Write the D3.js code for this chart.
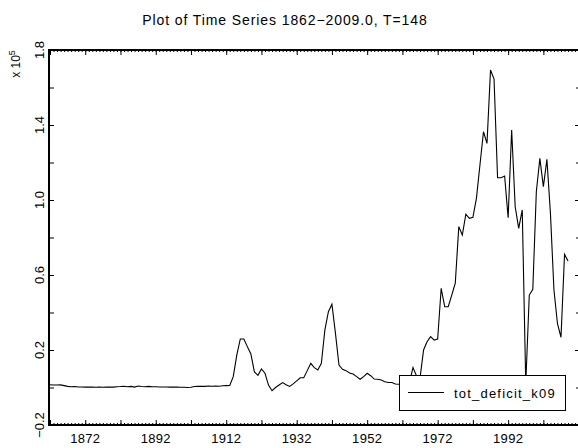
<!DOCTYPE html>
<html>
<head>
<meta charset="utf-8">
<script src="https://cdn.jsdelivr.net/npm/d3@7"></script>
<style>
body { margin: 0; background: #fff; }
text { font-family: "Liberation Sans", Arial, sans-serif; fill: #000; }
</style>
</head>
<body>
<script>
'use strict';

var width = 578;
var height = 448;

// series, in units of 10^5, one value per year from firstYear
var firstYear = 1862;
var lastYear = 2009;
var deficit = [
  0.015, 0.013, 0.013, 0.014, 0.010, 0.006, 0.004, 0.005, 0.003, 0.003,
  0.002, 0.003, 0.002, 0.001, 0.002, 0.001, 0.002, 0.003, 0.002, 0.004,
  0.005, 0.007, 0.004, 0.006, 0.002, 0.008, 0.005, 0.004, 0.006, 0.004,
  0.004, 0.003, 0.003, 0.003, 0.002, 0.002, 0.002, 0.001, 0.001, 0.000,
  0.001, 0.005, 0.006, 0.007, 0.006, 0.008, 0.007, 0.008, 0.007, 0.009,
  0.010, 0.011, 0.058, 0.173, 0.259, 0.259, 0.218, 0.179, 0.083, 0.065,
  0.099, 0.076, 0.013, -0.017, 0.000, 0.013, 0.026, 0.015, 0.006, 0.019,
  0.035, 0.052, 0.052, 0.090, 0.129, 0.106, 0.093, 0.129, 0.307, 0.404,
  0.444, 0.289, 0.120, 0.097, 0.090, 0.077, 0.072, 0.058, 0.044, 0.058,
  0.076, 0.063, 0.045, 0.044, 0.040, 0.031, 0.027, 0.027, 0.019, 0.017,
  0.015, 0.018, 0.026, 0.106, 0.062, 0.050, 0.200, 0.244, 0.271, 0.253,
  0.258, 0.529, 0.431, 0.431, 0.493, 0.556, 0.858, 0.813, 0.924, 0.902,
  0.908, 1.009, 1.187, 1.364, 1.302, 1.693, 1.645, 1.119, 1.119, 1.128,
  0.906, 1.373, 0.964, 0.849, 0.947, 0.020, 0.493, 0.524, 1.044, 1.222,
  1.071, 1.217, 0.930, 0.520, 0.340, 0.268, 0.710, 0.675
];
var seriesName = 'tot_deficit_k09';

var xMajorTicks = [1862, 1872, 1882, 1892, 1902, 1912, 1922, 1932, 1942, 1952, 1962, 1972, 1982, 1992, 2002];
var xLabels = [1872, 1892, 1912, 1932, 1952, 1972, 1992];
var yTicks = [-0.2, 0, 0.2, 0.4, 0.6, 0.8, 1.0, 1.2, 1.4, 1.6, 1.8];
var yLabels = [-0.2, 0.2, 0.6, 1.0, 1.4, 1.8];

var plotLeft = 50, plotRight = 578, plotTop = 50, plotBottom = 425;

var svg = d3.select('body').append('svg').attr('width', width).attr('height', height);

var x = d3.scaleLinear().domain([firstYear, 2011]).range([plotLeft, 575.1]);
var y = d3.scaleLinear().domain([-0.2, 1.8]).range([plotBottom, plotTop]);

var minorYears = d3.range(firstYear, 2012);

function noLabel() { return ''; }

// bottom axis, ticks pointing into the plot
svg.append('g').attr('transform', 'translate(0,' + plotBottom + ')')
  .call(d3.axisBottom(x).tickValues(minorYears).tickSizeInner(-2).tickSizeOuter(0).tickFormat(noLabel));
svg.append('g').attr('transform', 'translate(0,' + plotBottom + ')')
  .call(d3.axisBottom(x).tickValues(xMajorTicks).tickSizeInner(-5).tickSizeOuter(0).tickFormat(noLabel));

// top axis
svg.append('g').attr('transform', 'translate(0,' + plotTop + ')')
  .call(d3.axisTop(x).tickValues(minorYears).tickSizeInner(-2).tickSizeOuter(0).tickFormat(noLabel));
svg.append('g').attr('transform', 'translate(0,' + plotTop + ')')
  .call(d3.axisTop(x).tickValues(xMajorTicks).tickSizeInner(-5).tickSizeOuter(0).tickFormat(noLabel));

// left axis
svg.append('g').attr('transform', 'translate(' + (plotLeft - 1) + ',0)')
  .call(d3.axisLeft(y).tickValues(yTicks).tickSizeInner(-5).tickSizeOuter(0).tickFormat(noLabel));

// right side: ticks only
svg.append('g').attr('transform', 'translate(' + plotRight + ',0)')
  .call(d3.axisRight(y).tickValues(yTicks).tickSizeInner(-2).tickSizeOuter(0).tickFormat(noLabel));
svg.append('g').attr('transform', 'translate(' + plotRight + ',0)')
  .call(d3.axisRight(y).tickValues(yLabels).tickSizeInner(-3).tickSizeOuter(0).tickFormat(noLabel));

svg.selectAll('.domain').remove();
svg.selectAll('.tick line').attr('stroke', '#000');

// frame lines
svg.append('line').attr('x1', plotLeft - 1).attr('x2', plotLeft - 1).attr('y1', plotTop - 1).attr('y2', plotBottom + 1)
  .attr('stroke', '#000').attr('stroke-width', 2);
svg.append('line').attr('x1', plotLeft - 2).attr('x2', plotRight).attr('y1', plotBottom).attr('y2', plotBottom)
  .attr('stroke', '#000').attr('stroke-width', 2);
svg.append('line').attr('x1', plotLeft - 2).attr('x2', plotRight).attr('y1', plotTop).attr('y2', plotTop)
  .attr('stroke', '#000').attr('stroke-width', 2);

// tick labels
svg.selectAll('.xlab').data(xLabels).enter().append('text')
  .attr('class', 'xlab')
  .attr('x', function (d) { return x(d); })
  .attr('y', 443)
  .attr('text-anchor', 'middle')
  .attr('font-size', 13)
  .attr('letter-spacing', 0.3)
  .text(function (d) { return d; });

svg.selectAll('.ylab').data(yLabels).enter().append('text')
  .attr('class', 'ylab')
  .attr('transform', function (d) { return 'translate(44,' + y(d) + ') rotate(-90)'; })
  .attr('text-anchor', 'middle')
  .attr('font-size', 13)
  .text(function (d) { return d < 0 ? '\u2212' + d3.format('.1f')(-d) : d3.format('.1f')(d); });

// scale factor note
var mult = svg.append('text')
  .attr('transform', 'translate(20,64) rotate(-90)')
  .attr('text-anchor', 'middle')
  .attr('font-size', 12);
mult.append('tspan').text('x 10');
mult.append('tspan').attr('font-size', 9).attr('dy', -5).text('5');

// title
svg.append('text')
  .attr('x', 285).attr('y', 25)
  .attr('text-anchor', 'middle')
  .attr('font-size', 14)
  .attr('letter-spacing', 0.9)
  .text('Plot of Time Series ' + firstYear + '\u2212' + lastYear + '.0, T=' + deficit.length);

// the series
var line = d3.line()
  .x(function (d, i) { return x(firstYear + i); })
  .y(function (d) { return y(d); });

svg.append('path').datum(deficit)
  .attr('d', line)
  .attr('fill', 'none')
  .attr('stroke', '#000')
  .attr('stroke-width', 1.1)
  .attr('stroke-linejoin', 'miter');

// legend
var legend = svg.append('g').attr('transform', 'translate(399,375)');
legend.append('rect').attr('x', 0.5).attr('y', 0.5).attr('width', 166).attr('height', 35)
  .attr('fill', '#fff').attr('stroke', '#000').attr('stroke-width', 1);
legend.append('line').attr('x1', 9).attr('x2', 45).attr('y1', 17.5).attr('y2', 17.5)
  .attr('stroke', '#000').attr('stroke-width', 1);
legend.append('text').attr('x', 55).attr('y', 22.5)
  .attr('font-size', 13)
  .attr('letter-spacing', 1.2)
  .text(seriesName);
</script>
</body>
</html>
